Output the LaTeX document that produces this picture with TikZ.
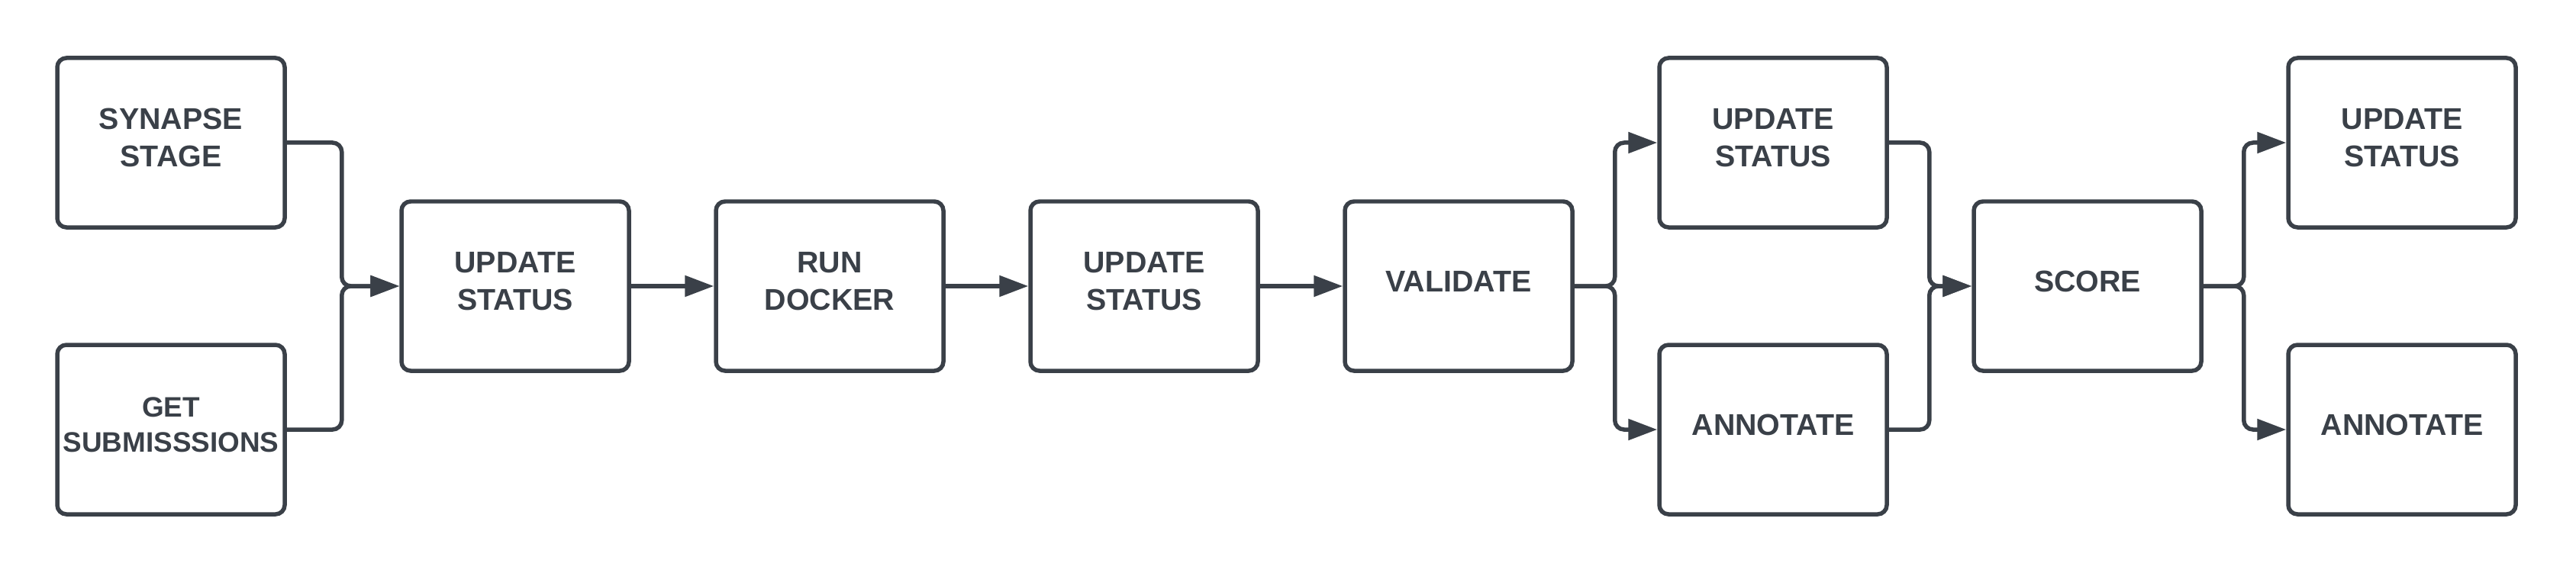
\documentclass[tikz,border=0pt]{standalone}
\usepackage{fontspec}
\setmainfont{Liberation Sans}
\usetikzlibrary{arrows.meta}
\definecolor{ink}{RGB}{58,64,72}
\begin{document}
\begin{tikzpicture}
  [box/.style={draw=ink,line width=0.055cm,rounded corners=0.12cm,fill=white,
    minimum width=2.98cm,minimum height=2.22cm,inner sep=1pt,align=center,
    text depth=0.13cm,text=ink,font=\fontsize{11.2}{13.9}\selectfont\bfseries},
   small/.style={font=\fontsize{10.5}{13.2}\selectfont\bfseries},
   flow/.style={draw=ink,line width=0.055cm,rounded corners=0.12cm,
    -{Triangle[length=3.8mm,width=2.7mm]}}]
    \useasboundingbox (0,0) rectangle (33.75,7.5);

    \node (sstage) [box] at (2.24,5.63)  {SYNAPSE\\STAGE};
    \node (getsub) [box,small] at (2.24,1.87) {GET\\SUBMISSSIONS};
    \node (upd1)   [box] at (6.75,3.75)  {UPDATE\\STATUS};
    \node (rundock)[box] at (10.87,3.75) {RUN\\DOCKER};
    \node (upd2)   [box] at (14.99,3.75) {UPDATE\\STATUS};
    \node (valid)  [box] at (19.11,3.75) {VALIDATE};
    \node (upd3)   [box] at (23.23,5.63) {UPDATE\\STATUS};
    \node (annot1) [box] at (23.23,1.87) {ANNOTATE};
    \node (score)  [box] at (27.35,3.75) {SCORE};
    \node (upd4)   [box] at (31.47,5.63) {UPDATE\\STATUS};
    \node (annot2) [box] at (31.47,1.87) {ANNOTATE};

    \foreach \from/\to/\mid in {sstage/upd1/0.72,getsub/upd1/0.72,
      valid/upd3/0.53,valid/annot1/0.53,upd3/score/0.53,annot1/score/0.53,
      score/upd4/0.53,score/annot2/0.53}
      \draw[flow] (\from.east) -- ++(\mid,0) |- (\to.west);

    \foreach \from/\to in {upd1/rundock,rundock/upd2,upd2/valid}
      \draw[flow] (\from) -- (\to);
  \end{tikzpicture}
\end{document}
